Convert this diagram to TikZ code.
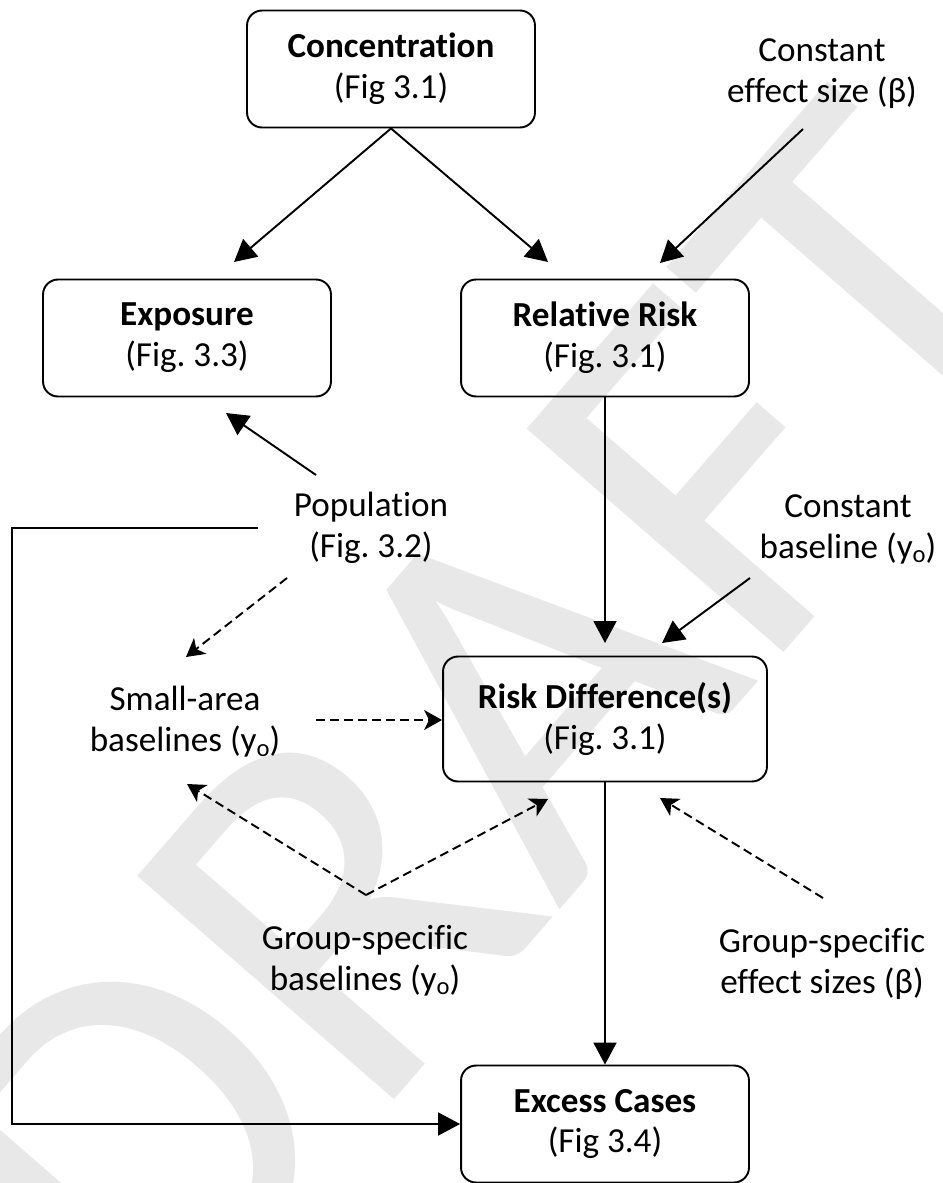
\documentclass[tikz,border=0pt]{standalone}
\usepackage{fontspec}
\setmainfont{Carlito}[Ligatures=NoCommon]
\usetikzlibrary{arrows.meta}
\frenchspacing
\newcommand{\yzero}{y\raisebox{-0.12em}{\fontsize{14}{14}\selectfont o}}

\begin{document}
\begin{tikzpicture}[x=0.02cm,y=-0.02cm,font=\fontsize{20}{23.3}\selectfont]
  \tikzset{stage/.style={draw,line width=1.1pt,rounded corners=0.3cm,
      minimum width=5.76cm,minimum height=2.34cm,align=center,inner sep=0pt},
    input/.style={align=center,inner sep=0pt},
    link/.style={line width=1.1pt,-{Triangle[length=0.44cm,width=0.46cm]}},
    maybe/.style={line width=1.1pt,dash pattern=on 0.18cm off 0.1cm,
      -{Stealth[length=0.36cm,width=0.4cm,inset=0.1cm]}}}

  \useasboundingbox (0,0) rectangle (943,1183);

  %% Watermark behind everything
  \node[rotate=49,text=black!9,inner sep=0pt,
    font=\fontsize{302}{302}\selectfont] (wm) at (494,726) {DRAFT};

  %% The stages of the calculation
  \node[stage] (conc) at (391,69)   {\textbf{Concentration}\\(Fig 3.1)};
  \node[stage] (expo) at (187,338)  {\textbf{Exposure}\\(Fig. 3.3)};
  \node[stage] (rr)   at (605,338)  {\textbf{Relative Risk}\\(Fig. 3.1)};
  \node[stage,minimum width=6.48cm,minimum height=2.5cm]
               (rd)   at (605,719)  {\textbf{Risk Difference(s)}\\(Fig. 3.1)};
  \node[stage] (exc)  at (605,1124) {\textbf{Excess Cases}\\(Fig 3.4)};

  %% Inputs.  Text centres sit about 8px above the mean baseline.
  \node[input] (beta)   at (822,74)  {Constant\\effect size (β)};
  \node[input] (pop)    at (371,528) {Population\\(Fig. 3.2)};
  \node[input] (ybase)  at (848,529) {Constant\\baseline (\yzero)};
  \node[input] (ysmall) at (185,722) {Small-area\\baselines (\yzero)};
  \node[input] (ygroup) at (365,961) {Group-specific\\baselines (\yzero)};
  \node[input] (bgroup) at (822,964) {Group-specific\\effect sizes (β)};

  %% Free ends of the connectors (the tips stop short of the boxes)
  \coordinate (expotip)  at (234,262);
  \coordinate (rrtip)    at (548,262);
  \coordinate (betaend)  at (803,129);
  \coordinate (betatip)  at (660,263);
  \coordinate (popup)    at (316,475);
  \coordinate (poptip)   at (226,413);
  \coordinate (rdtop)    at (605,643);
  \coordinate (ybend)    at (750,578);
  \coordinate (ybtip)    at (662,643);
  \coordinate (popdown)  at (287,578);
  \coordinate (smalltip) at (186,657);
  \coordinate (smallend) at (316,720);
  \coordinate (vertex)   at (366,895);
  \coordinate (vleft)    at (187,784);
  \coordinate (vright)   at (548,799);
  \coordinate (bgend)    at (823,898);
  \coordinate (bgtip)    at (660,798);
  \coordinate (popend)   at (258,528);
  \coordinate (corner)   at (12,528);

  %% Solid links
  \draw[link] (conc.south) -- (expotip);
  \draw[link] (conc.south) -- (rrtip);
  \draw[link] (betaend) -- (betatip);
  \draw[link] (popup) -- (poptip);
  \draw[link] (rr.south) -- (rdtop);
  \draw[link] (ybend) -- (ybtip);
  \draw[link] (rd.south) -- (exc.north);
  \draw[link] (popend) -- (corner) |- (exc.west);

  %% Dashed links
  \draw[maybe] (popdown) -- (smalltip);
  \draw[maybe] (smallend) -- (smallend -| rd.west);
  \draw[maybe] (vertex) -- (vleft);
  \draw[maybe] (vertex) -- (vright);
  \draw[maybe] (bgend) -- (bgtip);

\end{tikzpicture}
\end{document}
